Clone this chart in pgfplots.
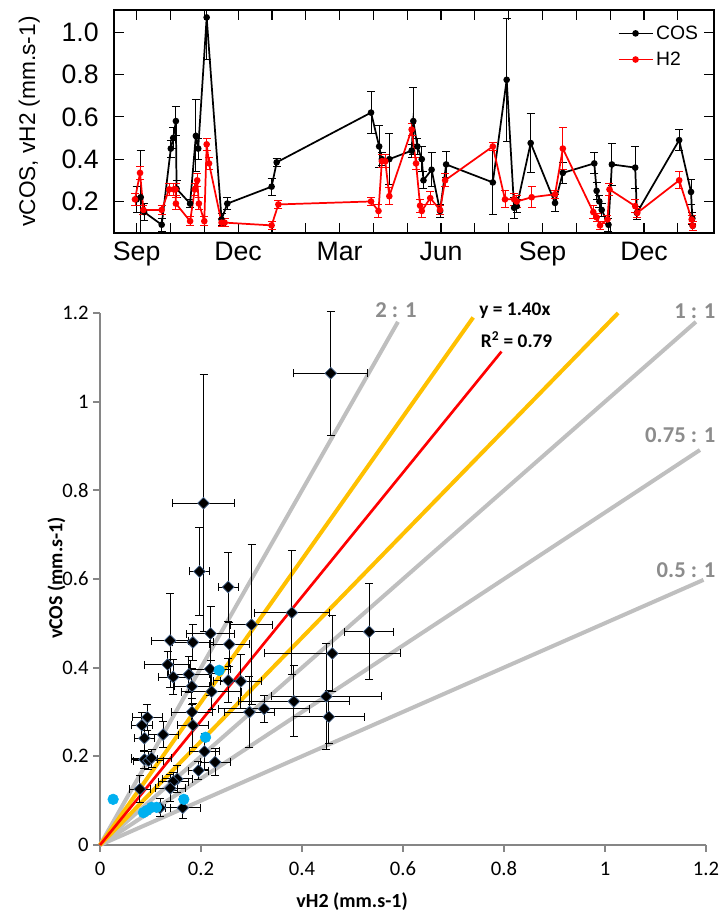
\documentclass[border=0pt]{standalone}
\usepackage{fontspec}
\setmainfont{Carlito}
\newfontfamily\arial{Liberation Sans}
\usepackage{pgfplots}
\pgfplotsset{compat=1.18}
\usepackage{pgfplotstable}
\definecolor{refgray}{RGB}{191,191,191}
\definecolor{lblgray}{RGB}{140,140,140}
\definecolor{fitred}{RGB}{255,0,0}
\definecolor{band}{RGB}{255,192,0}
\definecolor{dotblue}{RGB}{0,176,240}
\definecolor{axgray}{RGB}{134,134,134}
\definecolor{diamedge}{RGB}{70,100,140}

\pgfplotstableread{
m v e
0.00 0.21 0.06
0.12 0.22 0.22
0.22 0.15 0.04
0.74 0.09 0.03
1.01 0.45 0.04
1.08 0.50 0.05
1.16 0.58 0.07
1.18 0.26 0.04
1.58 0.19 0.02
1.75 0.51 0.17
1.82 0.45 0.05
2.07 1.07 0.20
2.51 0.115 0.03
2.68 0.19 0.03
3.99 0.27 0.04
4.14 0.385 0.02
6.93 0.62 0.10
7.17 0.46 0.10
7.25 0.40 0.03
7.47 0.40 0.12
8.13 0.44 0.03
8.18 0.58 0.16
8.30 0.46 0.04
8.43 0.40 0.06
8.48 0.30 0.04
8.72 0.35 0.08
8.97 0.155 0.03
9.15 0.375 0.06
10.53 0.29 0.15
10.94 0.775 0.29
11.16 0.17 0.05
11.24 0.178 0.03
11.65 0.476 0.14
12.37 0.193 0.04
12.60 0.335 0.05
13.53 0.38 0.05
13.60 0.25 0.04
13.68 0.20 0.03
13.75 0.16 0.03
13.95 0.09 0.03
14.05 0.375 0.10
14.74 0.36 0.10
14.79 0.146 0.03
16.04 0.49 0.05
16.39 0.245 0.06
16.43 0.12 0.03
16.44 0.085 0.02
}\cosdata

\pgfplotstableread{
m v e
-0.05 0.21 0.03
0.10 0.335 0.03
0.20 0.16 0.02
0.74 0.16 0.02
0.96 0.257 0.03
1.10 0.257 0.03
1.15 0.257 0.03
1.16 0.19 0.03
1.58 0.107 0.02
1.72 0.257 0.03
1.79 0.30 0.03
1.84 0.19 0.03
2.00 0.107 0.02
2.07 0.47 0.03
2.14 0.38 0.03
2.51 0.10 0.02
2.60 0.10 0.02
3.99 0.087 0.02
4.19 0.186 0.02
6.93 0.20 0.02
7.15 0.155 0.03
7.25 0.39 0.03
7.35 0.39 0.03
7.47 0.225 0.04
8.13 0.54 0.03
8.26 0.38 0.03
8.38 0.18 0.03
8.43 0.155 0.03
8.68 0.216 0.03
8.97 0.16 0.02
9.12 0.30 0.03
10.53 0.46 0.02
10.89 0.21 0.04
11.16 0.21 0.03
11.24 0.20 0.03
11.68 0.22 0.05
12.37 0.234 0.02
12.60 0.45 0.10
13.50 0.15 0.03
13.60 0.125 0.02
13.70 0.087 0.02
13.92 0.115 0.02
13.98 0.257 0.03
14.74 0.178 0.03
14.80 0.146 0.02
16.04 0.30 0.04
16.41 0.115 0.02
16.44 0.085 0.02
}\htwodata

\pgfplotstableread{
x y ex ey
0.457 1.064 0.073 0.140
0.205 0.771 0.062 0.290
0.197 0.617 0.020 0.100
0.254 0.582 0.020 0.077
0.380 0.524 0.074 0.140
0.300 0.497 0.042 0.180
0.533 0.481 0.048 0.108
0.139 0.461 0.037 0.106
0.184 0.457 0.040 0.040
0.219 0.477 0.047 0.060
0.256 0.453 0.040 0.050
0.460 0.432 0.135 0.085
0.134 0.407 0.045 0.030
0.145 0.379 0.030 0.040
0.176 0.385 0.040 0.040
0.218 0.397 0.040 0.060
0.182 0.358 0.035 0.040
0.254 0.371 0.030 0.050
0.279 0.369 0.040 0.060
0.221 0.346 0.060 0.040
0.448 0.335 0.109 0.120
0.384 0.324 0.109 0.080
0.325 0.307 0.090 0.030
0.296 0.300 0.050 0.080
0.182 0.300 0.040 0.030
0.453 0.289 0.070 0.060
0.094 0.288 0.030 0.030
0.083 0.270 0.020 0.030
0.184 0.270 0.030 0.050
0.125 0.249 0.030 0.030
0.088 0.241 0.020 0.030
0.207 0.211 0.030 0.040
0.088 0.193 0.025 0.020
0.096 0.190 0.030 0.020
0.102 0.196 0.040 0.020
0.228 0.187 0.030 0.030
0.195 0.168 0.020 0.020
0.153 0.149 0.030 0.030
0.145 0.143 0.030 0.020
0.139 0.128 0.030 0.030
0.079 0.126 0.020 0.030
0.119 0.084 0.020 0.020
0.164 0.084 0.035 0.025
}\scatdata

\pgfplotstableread{
x y
0.236 0.394
0.209 0.243
0.026 0.103
0.166 0.103
0.086 0.073
0.093 0.078
0.102 0.085
0.112 0.085
}\bluedata

\begin{document}
\begin{tikzpicture}[x=1pt,y=1pt]
\useasboundingbox (-75pt,-53.25pt) rectangle (467.25pt,633.75pt);

% ---------- top time series ----------
\begin{axis}[
  at={(10.5pt,459pt)}, anchor=south west,
  scale only axis, width=450pt, height=167.25pt,
  xmin=-0.67, xmax=17.07, ymin=0.051, ymax=1.105,
  axis line style={line width=1.3pt},
  tick align=inside, major tick length=7.5pt,
  tick style={black, line width=0.9pt},
  xtick={0,...,16},
  xticklabels={Sep,,,Dec,,,Mar,,,Jun,,,Sep,,,Dec,},
  ytick={0.2,0.4,0.6,0.8,1.0},
  yticklabel style={/pgf/number format/fixed,/pgf/number format/fixed zerofill,/pgf/number format/precision=1, xshift=-8pt},
  xticklabel style={yshift=-3pt},
  ticklabel style={font=\arial\fontsize{20}{22}\selectfont},
  /pgf/number format/assume math mode=true,
  legend style={draw=none, fill=none, at={(0.985,0.955)}, anchor=north east,
    font=\arial\fontsize{14.5}{17}\selectfont, row sep=4pt},
  legend cell align=left,
  legend image code/.code={\draw[mark repeat=2,mark phase=2] plot coordinates {(0cm,0cm) (0.45cm,0cm) (0.9cm,0cm)};},
]
\addplot[black, line width=1.3pt, mark=*, mark size=1.8pt,
  error bars/.cd, y dir=both, y explicit,
  error bar style={black, line width=0.7pt},
  error mark options={rotate=90, black, line width=0.7pt, mark size=3pt}]
  table[x=m, y=v, y error=e] {\cosdata};
\addlegendentry{COS}
\addplot[red, line width=1.3pt, mark=*, mark size=1.8pt,
  error bars/.cd, y dir=both, y explicit,
  error bar style={red, line width=0.7pt},
  error mark options={rotate=90, red, line width=0.7pt, mark size=3pt}]
  table[x=m, y=v, y error=e] {\htwodata};
\addlegendentry{H2}
\end{axis}
\node[rotate=90, anchor=center, font=\arial\fontsize{17}{19}\selectfont] at (-53pt,542.6pt) {vCOS, vH2 (mm.s-1)};

% ---------- scatter ----------
\begin{axis}[
  at={(0pt,0pt)}, anchor=south west,
  scale only axis, width=454.5pt, height=399pt,
  xmin=0, xmax=1.2, ymin=0, ymax=1.2,
  axis lines=left,
  axis line style={axgray, line width=1.5pt, -},
  tick style={axgray, line width=1.5pt},
  tick align=outside, major tick length=5pt,
  xtick={0,0.2,0.4,0.6,0.8,1,1.2},
  ytick={0,0.2,0.4,0.6,0.8,1,1.2},
  ticklabel style={font=\fontsize{15.5}{18}\selectfont, black},
  xticklabel style={yshift=-4pt},
  /pgf/number format/assume math mode=true,
  xlabel={vH2 (mm.s-1)},
  ylabel={vCOS (mm.s-1)},
  xlabel style={font=\bfseries\fontsize{15}{18}\selectfont, at={(axis description cs:0.416,-0.107)}, anchor=center},
  ylabel style={font=\bfseries\fontsize{15}{18}\selectfont, at={(axis description cs:-0.072,0.502)}, anchor=center},
  clip=false,
]
\addplot[refgray, line width=3pt] coordinates {(0,0) (0.59,1.18)};
\addplot[refgray, line width=3pt] coordinates {(0,0) (1.18,1.18)};
\addplot[refgray, line width=3pt] coordinates {(0,0) (1.188,0.891)};
\addplot[refgray, line width=3pt] coordinates {(0,0) (1.195,0.598)};
\addplot[band, line width=3pt] coordinates {(0,0) (0.739,1.19)};
\addplot[band, line width=3pt] coordinates {(0,0) (1.026,1.20)};
\addplot[fitred, line width=2pt] coordinates {(0,0) (0.795,1.113)};

\addplot[only marks, mark=square*, mark size=3.1pt,
  mark options={rotate=45, fill=black, draw=diamedge, line width=0.5pt},
  error bars/.cd, x dir=both, x explicit, y dir=both, y explicit,
  error bar style={black, line width=0.7pt},
  error mark options={rotate=90, black, line width=0.7pt, mark size=3pt}]
  table[x=x, y=y, x error=ex, y error=ey] {\scatdata};

\addplot[only marks, mark=*, mark size=4pt, mark options={fill=dotblue, draw=dotblue}]
  table[x=x, y=y] {\bluedata};

\node[anchor=center, text=lblgray, font=\bfseries\fontsize{17}{20}\selectfont] at (axis cs:0.586,1.207) {2 : 1};
\node[anchor=east, text=lblgray, font=\bfseries\fontsize{17}{20}\selectfont] at (axis cs:1.228,1.205) {1 : 1};
\node[anchor=east, text=lblgray, font=\bfseries\fontsize{17}{20}\selectfont] at (axis cs:1.228,0.924) {0.75 : 1};
\node[anchor=east, text=lblgray, font=\bfseries\fontsize{17}{20}\selectfont] at (axis cs:1.228,0.621) {0.5 : 1};
\node[anchor=west, text=black, font=\bfseries\fontsize{14.5}{17}\selectfont] at (axis cs:0.742,1.205) {y = 1.40x};
\node[anchor=west, text=black, font=\bfseries\fontsize{14.5}{17}\selectfont] at (axis cs:0.745,1.141) {R\textsuperscript{2} = 0.79};
\end{axis}
\end{tikzpicture}
\end{document}
